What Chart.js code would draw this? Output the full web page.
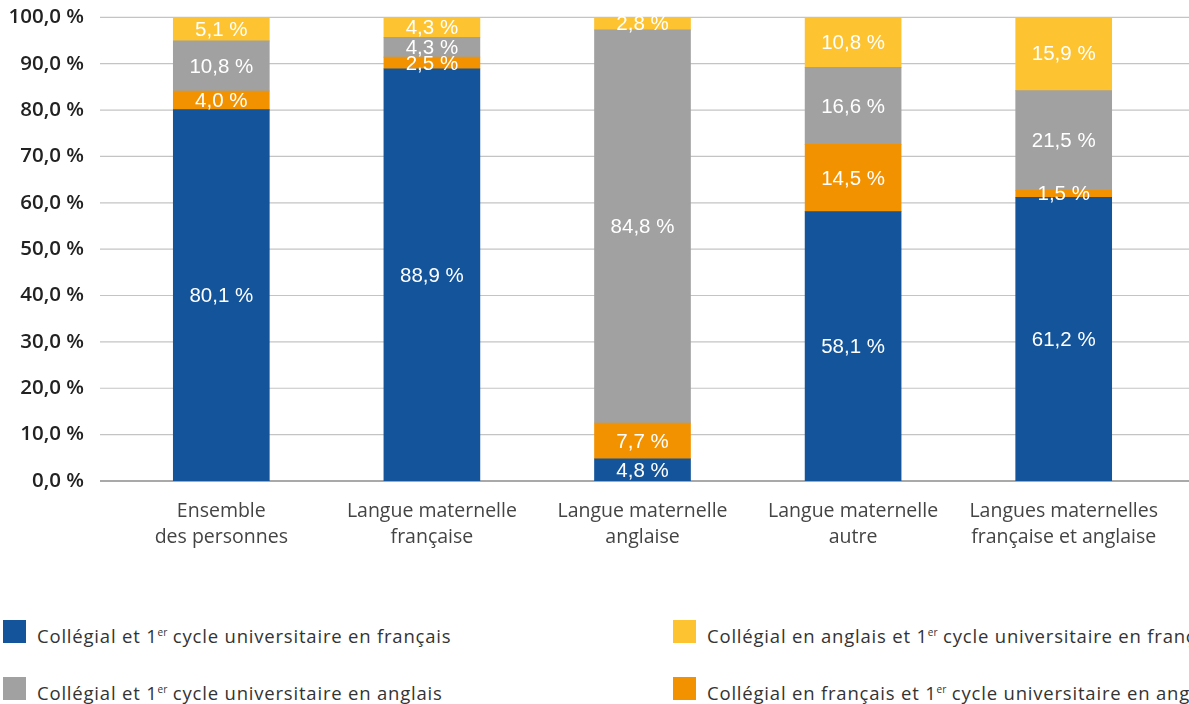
<!DOCTYPE html>
<html>
<head>
<meta charset="utf-8">
<script src="https://cdn.jsdelivr.net/npm/chart.js@4/dist/chart.umd.min.js"></script>
<style>
  html, body { margin: 0; padding: 0; background: #fff; overflow: hidden; }
  body { width: 1189px; height: 704px; position: relative; font-family: "Open Sans", "Noto Sans", sans-serif; }
  #wrap { position: absolute; left: 0; top: -19px; width: 1189px; height: 579px; }
  .leg-box { position: absolute; width: 23px; height: 23px; }
  .leg-text { position: absolute; white-space: nowrap; font-size: 18.5px; line-height: 24px; color: #333; letter-spacing: 0.8px; }
  .leg-text sup { font-size: 10px; vertical-align: 7px; line-height: 0; letter-spacing: 0; }
</style>
</head>
<body>
<div id="wrap"><canvas id="chart"></canvas></div>
<div id="legend"></div>
<script>
const categories = [
  ['Ensemble', 'des personnes'],
  ['Langue maternelle', 'française'],
  ['Langue maternelle', 'anglaise'],
  ['Langue maternelle', 'autre'],
  ['Langues maternelles', 'française et anglaise']
];

// bottom to top
const seriesLabels = [
  'Collégial et 1er cycle universitaire en français',
  'Collégial en français et 1er cycle universitaire en anglais',
  'Collégial et 1er cycle universitaire en anglais',
  'Collégial en anglais et 1er cycle universitaire en français'
];
const frFr = [80.1, 88.9, 4.8, 58.1, 61.2];
const frAn = [4.0, 2.5, 7.7, 14.5, 1.5];
const anAn = [10.8, 4.3, 84.8, 16.6, 21.5];
const anFr = [5.1, 4.3, 2.8, 10.8, 15.9];
const seriesColors = ['#13549a', '#f39200', '#a0a1a0', '#fdc331'];

// legend reads left-to-right, two columns
const legendOrder = [0, 3, 2, 1];

const yMin = 0, yMax = 100, yStep = 10;

const fmt = v => v.toFixed(1).replace('.', ',') + ' %';

// grid lines run wider than the plot area in the original
const wideGrid = {
  id: 'wideGrid',
  beforeDatasetsDraw(chart) {
    const y = chart.scales.y;
    const c = chart.ctx;
    c.save();
    y.ticks.forEach(t => {
      const py = y.getPixelForValue(t.value);
      c.beginPath();
      c.lineWidth = t.value === 0 ? 2 : 1.2;
      c.strokeStyle = t.value === 0 ? '#a9a9a9' : '#c4c4c4';
      c.moveTo(100, py);
      c.lineTo(chart.width, py);
      c.stroke();
    });
    c.restore();
  }
};

const barLabels = {
  id: 'barLabels',
  afterDatasetsDraw(chart) {
    const c = chart.ctx;
    c.save();
    c.font = '20.5px "Liberation Sans", Arial, sans-serif';
    c.fillStyle = '#fff';
    c.textAlign = 'center';
    c.textBaseline = 'middle';
    chart.data.datasets.forEach((ds, i) => {
      chart.getDatasetMeta(i).data.forEach((bar, j) => {
        const mid = (bar.y + bar.base) / 2;
        c.fillText(fmt(ds.data[j]), bar.x, mid + 1);
      });
    });
    c.restore();
  }
};

const allSeries = [frFr, frAn, anAn, anFr];

new Chart(document.getElementById('chart'), {
  type: 'bar',
  data: {
    labels: categories,
    datasets: allSeries.map((d, i) => ({
      label: seriesLabels[i],
      data: d,
      backgroundColor: seriesColors[i],
      borderWidth: 0,
      barThickness: 96
    }))
  },
  options: {
    responsive: true,
    maintainAspectRatio: false,
    animation: false,
    layout: { padding: { top: 0, right: 20, left: 0, bottom: 0 } },
    plugins: {
      legend: { display: false },
      tooltip: { enabled: false }
    },
    scales: {
      x: {
        stacked: true,
        grid: { display: false },
        border: { display: false },
        ticks: {
          color: '#444',
          font: { family: '"Open Sans", "Noto Sans", sans-serif', size: 19.5, lineHeight: 1.3 },
          padding: 10,
          maxRotation: 0,
          autoSkip: false
        },
        afterFit: (s) => { s.height = 79; }
      },
      y: {
        stacked: true,
        min: yMin,
        max: yMax,
        grid: { display: false },
        border: { display: false },
        ticks: {
          stepSize: yStep,
          color: '#222',
          font: { family: '"Open Sans", "Noto Sans", sans-serif', size: 20.5, weight: '600' },
          padding: 24,
          callback: (v) => fmt(v)
        },
        afterFit: (s) => { s.width = 116; }
      }
    }
  },
  plugins: [wideGrid, barLabels]
});

// html legend (for the superscript "er")
const legend = document.getElementById('legend');
const colX = [3, 673];
const rowY = [620, 677];
legendOrder.forEach((si, k) => {
  const col = k % 2, row = Math.floor(k / 2);
  const box = document.createElement('div');
  box.className = 'leg-box';
  box.style.left = colX[col] + 'px';
  box.style.top = rowY[row] + 'px';
  box.style.background = seriesColors[si];
  legend.appendChild(box);
  const txt = document.createElement('div');
  txt.className = 'leg-text';
  txt.style.left = (colX[col] + 34) + 'px';
  txt.style.top = (rowY[row] + 4) + 'px';
  txt.innerHTML = seriesLabels[si].replace('1er', '1<sup>er</sup>');
  legend.appendChild(txt);
});
</script>
</body>
</html>
